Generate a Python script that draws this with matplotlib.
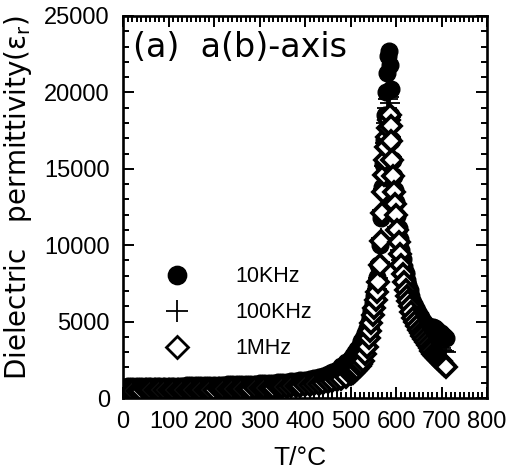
import matplotlib
matplotlib.use("Agg")
import matplotlib.pyplot as plt
from matplotlib.ticker import MultipleLocator

plt.rcParams['font.family'] = ['Liberation Sans', 'DejaVu Sans']
plt.rcParams['mathtext.fontset'] = 'custom'
plt.rcParams['mathtext.rm'] = 'DejaVu Sans'
plt.rcParams['mathtext.it'] = 'DejaVu Sans'

# Temperature (°C)
T = [0, 10, 20, 30, 40, 50, 60, 70, 80, 90, 100,
     110, 120, 130, 140, 150, 160, 170, 180, 190, 200,
     210, 220, 230, 240, 250, 260, 270, 280, 290, 300,
     310, 320, 330, 340, 350, 360, 370, 380, 390, 400,
     410, 420, 430, 440, 450, 460, 470, 480, 490, 500,
     505, 510, 515, 520, 524, 528, 532, 536, 540,
     543, 546, 549, 552, 555, 558, 561, 564, 567, 570,
     572, 574, 576, 578, 580, 582, 584, 586, 588, 590, 592, 594, 596, 598, 600,
     603, 606, 609, 612, 615, 618, 621, 624, 627, 630,
     634, 638, 642, 646, 650, 654, 658, 662, 666, 670, 674, 678, 682, 686, 690,
     694, 698, 702, 706, 710]

eps_10k = [750, 755, 760, 765, 770, 775, 780, 785, 790, 795, 800,
           805, 810, 815, 820, 828, 835, 842, 850, 857, 865,
           872, 880, 887, 895, 902, 910, 920, 930, 940, 950,
           965, 980, 1000, 1020, 1045, 1070, 1100, 1130, 1165, 1200,
           1250, 1310, 1380, 1460, 1560, 1680, 1850, 2100, 2350, 2650,
           2800, 3000, 3200, 3450, 3700, 3950, 4250, 4600, 5000,
           5350, 5750, 6200, 6700, 7250, 7900, 8700, 10000, 11800, 13800,
           15300, 16900, 18500, 20000, 21300, 22400, 22700, 21800, 20200, 18500, 16900, 15600, 14500, 13600, 12800,
           11900, 11100, 10400, 9700, 9100, 8600, 8150, 7750, 7400, 7050,
           6650, 6300, 6000, 5750, 5500, 5300, 5100, 4950, 4800, 4700, 4650, 4650, 4650, 4550, 4450,
           4350, 4250, 4150, 4050, 3950]

eps_100k = [620, 623, 626, 630, 634, 638, 642, 646, 650, 655, 660,
            665, 670, 675, 680, 686, 692, 698, 704, 710, 716,
            723, 730, 737, 745, 753, 762, 771, 780, 790, 800,
            812, 825, 840, 855, 872, 890, 912, 935, 960, 990,
            1025, 1065, 1110, 1165, 1230, 1310, 1420, 1560, 1750, 1980,
            2100, 2250, 2420, 2620, 2820, 3050, 3350, 3700, 4150,
            4550, 5000, 5500, 6000, 6550, 7150, 7850, 8900, 10500, 12300,
            13700, 15200, 16700, 18000, 19000, 19600, 19700, 19300, 18400, 17100, 15800, 14600, 13600, 12800, 12100,
            11200, 10400, 9700, 9050, 8450, 7950, 7500, 7100, 6750, 6450,
            6050, 5700, 5400, 5150, 4900, 4680, 4480, 4300, 4130, 3980, 3850, 3740, 3640, 3540, 3440,
            3340, 3240, 3150, 3060, 2980]

eps_1m = [480, 482, 485, 487, 490, 492, 495, 497, 500, 502, 505,
          507, 510, 515, 520, 525, 530, 535, 540, 545, 550,
          557, 565, 572, 580, 590, 600, 610, 620, 632, 645,
          657, 670, 685, 700, 717, 735, 755, 775, 800, 825,
          855, 890, 930, 975, 1025, 1080, 1150, 1250, 1380, 1550,
          1650, 1770, 1920, 2100, 2250, 2450, 2850, 3350, 3950,
          4400, 4900, 5400, 5900, 6400, 6950, 7600, 8700, 10300, 12100,
          13500, 14600, 15600, 16400, 17100, 17700, 18200, 18500, 17800, 16800, 15600, 14500, 13500, 12700, 12000,
          11000, 10200, 9400, 8700, 8100, 7600, 7100, 6700, 6350, 6000,
          5600, 5250, 4950, 4700, 4470, 4250, 4050, 3850, 3650, 3450, 3250, 3070, 2900, 2750, 2620,
          2500, 2400, 2300, 2150, 2050]

labels = ["10KHz", "100KHz", "1MHz"]

fig = plt.figure(figsize=(5.11, 4.73), dpi=100)
ax = fig.add_axes([123/511, 1 - 398/473, (487-123)/511, (398-16)/473])

ax.plot(T, eps_10k, linestyle='none', marker='o', markersize=12,
        markerfacecolor='black', markeredgecolor='black', label=labels[0])
ax.plot(T, eps_100k, linestyle='none', marker='+', markersize=14,
        markeredgewidth=1.3, color='black', label=labels[1])
ax.plot(T, eps_1m, linestyle='none', marker='D', markersize=10,
        markerfacecolor='white', markeredgecolor='black', markeredgewidth=2.7,
        label=labels[2])

ax.set_xlim(0, 800)
ax.set_ylim(0, 25000)
ax.xaxis.set_major_locator(MultipleLocator(100))
ax.xaxis.set_minor_locator(MultipleLocator(10))
ax.yaxis.set_major_locator(MultipleLocator(5000))
ax.yaxis.set_minor_locator(MultipleLocator(1000))

ax.tick_params(which='both', direction='in', top=True, right=True, width=1.4,
               labelsize=17, colors='black')
ax.tick_params(which='major', length=8, pad=9.5)
ax.tick_params(which='minor', length=4)
for s in ax.spines.values():
    s.set_linewidth(1.9)

ax.set_xlabel("T/°C", fontsize=19)
ax.xaxis.set_label_coords(0.486, -0.125)
ax.set_ylabel("Dielectric   permittivity(ε$_\\mathregular{r}$)", fontsize=20,
              family='DejaVu Sans')
ax.yaxis.set_label_coords(-0.245, 0.526)

ax.text(0.027, 0.962, "(a)  a(b)-axis", transform=ax.transAxes, fontsize=24,
        family='DejaVu Sans', ha='left', va='top')

leg = ax.legend(loc='upper left', bbox_to_anchor=(0.089, 0.345), frameon=False,
                fontsize=15.5, handlelength=2.0, handletextpad=1.7,
                labelspacing=0.7, borderpad=0, borderaxespad=0, numpoints=1,
                markerscale=1.1)
for h in leg.legend_handles:
    if h.get_marker() == 'D':
        h.set_markeredgewidth(2.0)

fig.savefig("out.png", dpi=100)
